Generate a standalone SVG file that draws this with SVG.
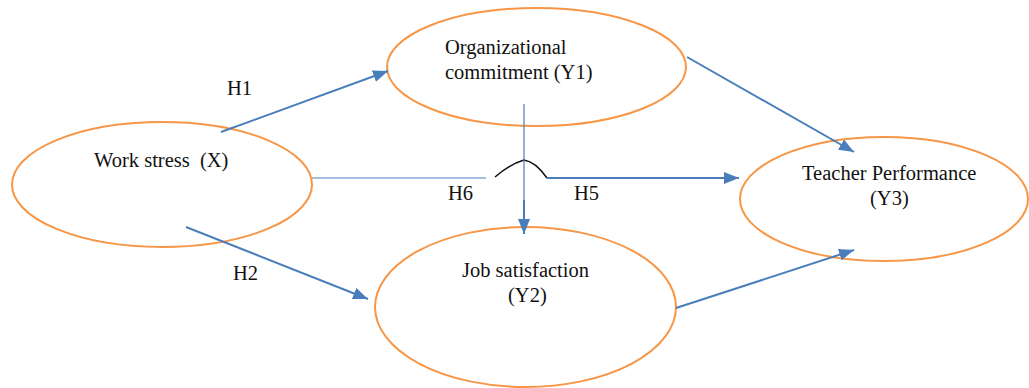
<svg xmlns="http://www.w3.org/2000/svg" width="1029" height="388" viewBox="0 0 1029 388">
<style>
.node ellipse{fill:#fff;stroke:#f79646;stroke-width:2}
.lbl{font-family:"Liberation Serif","Times New Roman",serif;font-size:20.5px;fill:#111;white-space:pre}
.c{stroke:#4a7ebb;stroke-width:2;fill:none}
.thin{stroke:#4a7ebb;stroke-width:1.2;fill:none}
</style>
<defs>
<marker id="ah" markerUnits="userSpaceOnUse" markerWidth="16" markerHeight="12" viewBox="0 0 16 12" refX="15" refY="6" orient="auto">
<path d="M0,0 L15,6 L0,12 Z" fill="#4a7ebb"/>
</marker>
</defs>
<g id="n-x" class="node">
<ellipse cx="162" cy="184.5" rx="150" ry="62.5"/>
<text class="lbl" x="94" y="167" xml:space="preserve">Work stress  (X)</text>
</g>
<g id="n-y1" class="node">
<ellipse cx="536.5" cy="67" rx="149.5" ry="59"/>
<text class="lbl" x="445" y="54">Organizational</text>
<text class="lbl" x="445" y="79">commitment (Y1)</text>
</g>
<g id="n-y2" class="node">
<ellipse cx="525.5" cy="307" rx="150.5" ry="80"/>
<text class="lbl" x="462" y="277">Job satisfaction</text>
<text class="lbl" x="508" y="302">(Y2)</text>
</g>
<g id="n-y3" class="node">
<ellipse cx="884" cy="199" rx="144" ry="62"/>
<text class="lbl" x="802" y="180">Teacher Performance</text>
<text class="lbl" x="870" y="205">(Y3)</text>
</g>
<g id="connectors">
<line class="c" x1="221" y1="132" x2="388" y2="71" marker-end="url(#ah)"/>
<line class="c" x1="687" y1="57" x2="854" y2="152" marker-end="url(#ah)"/>
<line class="thin" x1="312" y1="178" x2="486" y2="178"/>
<path d="M495,177 Q510,164 524,160 Q536,162 547,178" fill="none" stroke="#111" stroke-width="1.5"/>
<line class="c" x1="547" y1="178" x2="739" y2="178" marker-end="url(#ah)"/>
<line class="thin" x1="524" y1="104" x2="524" y2="200"/>
<line class="c" x1="524" y1="200" x2="524" y2="234" marker-end="url(#ah)"/>
<line class="c" x1="186" y1="227" x2="368" y2="299" marker-end="url(#ah)"/>
<line class="c" x1="676" y1="308" x2="854" y2="250" marker-end="url(#ah)"/>
</g>
<g id="labels">
<text class="lbl" x="227" y="95">H1</text>
<text class="lbl" x="448" y="200">H6</text>
<text class="lbl" x="574" y="200">H5</text>
<text class="lbl" x="233" y="280">H2</text>
</g>
</svg>
